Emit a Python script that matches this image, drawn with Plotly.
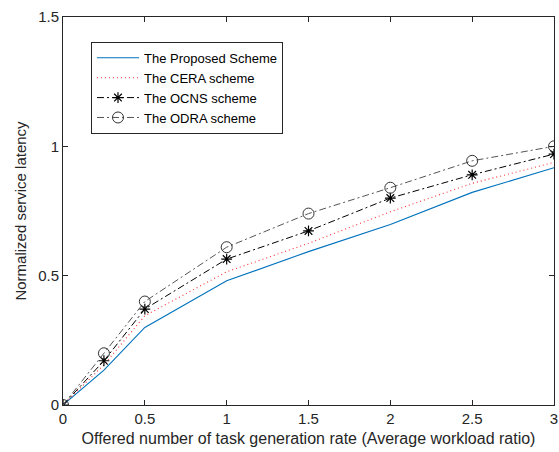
import plotly.graph_objects as go

x_vals = [0, 0.25, 0.5, 1, 1.5, 2, 2.5, 3]
proposed = [0, 0.135, 0.30, 0.48, 0.593, 0.698, 0.822, 0.917]
cera = [0, 0.155, 0.345, 0.515, 0.625, 0.747, 0.857, 0.938]
ocns = [0, 0.171, 0.371, 0.564, 0.673, 0.80, 0.89, 0.97]
odra = [0, 0.20, 0.40, 0.61, 0.74, 0.84, 0.944, 1.0]
names = ["The Proposed Scheme", "The CERA scheme", "The OCNS scheme", "The ODRA scheme"]
x_ticks = [0, 0.5, 1, 1.5, 2, 2.5, 3]
y_ticks = [0, 0.5, 1, 1.5]

FONT = "Liberation Sans, Arial"
fig = go.Figure()
fig.add_trace(go.Scatter(x=x_vals, y=proposed, name=names[0], mode="lines",
                         line=dict(color="#0072BD", width=1.1)))
fig.add_trace(go.Scatter(x=x_vals, y=cera, name=names[1], mode="lines",
                         line=dict(color="#FF3030", width=1.1, dash="1px,3px")))
fig.add_trace(go.Scatter(x=x_vals, y=ocns, name=names[2], mode="lines+markers",
                         line=dict(color="#000000", width=1, dash="7px,3px,2px,3px"),
                         marker=dict(symbol="asterisk-open", size=9,
                                     line=dict(color="#000000", width=1.2))))
fig.add_trace(go.Scatter(x=x_vals, y=odra, name=names[3], mode="lines+markers",
                         line=dict(color="#555555", width=1, dash="7px,3px,2px,3px"),
                         marker=dict(symbol="circle-open", size=11, color="#333333",
                                     line=dict(color="#333333", width=1))))

axis_common = dict(showgrid=False, zeroline=False, showline=True, linecolor="#262626",
                   linewidth=1, mirror="ticks", ticks="inside", ticklen=5, automargin=False,
                   tickcolor="#262626", tickfont=dict(family=FONT, size=15, color="#262626"))

fig.update_xaxes(range=[0, 3], tickvals=x_ticks, ticktext=[f"{v:g}" for v in x_ticks],
                 title=dict(text="Offered number of task generation rate (Average workload ratio)",
                            font=dict(family=FONT, size=16, color="#262626"),
                            standoff=6),
                 **axis_common)
fig.update_yaxes(range=[0, 1.5], tickvals=y_ticks, ticktext=[f"{v:g}" for v in y_ticks],
                 title=dict(text="Normalized service latency",
                            font=dict(family=FONT, size=15, color="#262626"),
                            standoff=7),
                 **axis_common)

fig.update_layout(
    width=559, height=452,
    margin=dict(l=63, r=5, t=17, b=47),
    plot_bgcolor="white", paper_bgcolor="white",
    legend=dict(x=0.057, y=0.936, xanchor="left", yanchor="top",
                bgcolor="white", bordercolor="#262626", borderwidth=1,
                font=dict(family=FONT, size=13, color="#000000"),
                tracegroupgap=0, itemwidth=42),
    showlegend=True,
)

fig.write_html("out.html", config={"displayModeBar": False},
               post_script="document.body.style.margin='0';document.body.style.overflow='hidden';")
